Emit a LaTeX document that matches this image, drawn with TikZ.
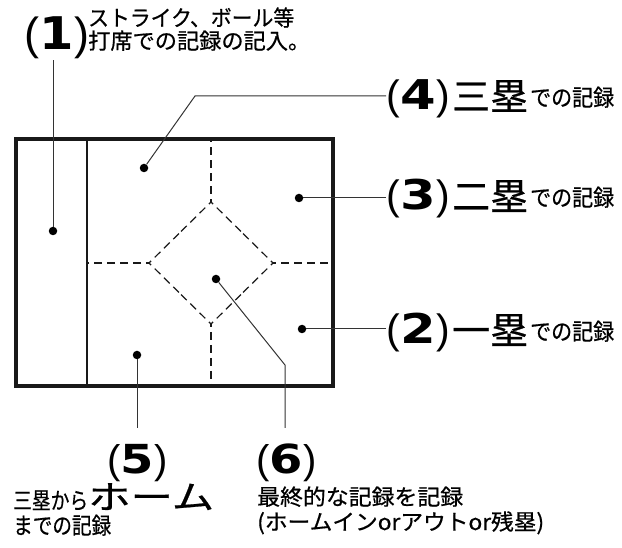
\documentclass[tikz,border=0pt]{standalone}
\usepackage{fontspec}
\usepackage{graphicx}
\usetikzlibrary{calc}
\setmainfont{Liberation Sans}
\newfontfamily\jp[FakeBold=0.6]{Noto Sans CJK JP}
\newfontfamily\digf{DejaVu Sans}
\newcommand\bnum[3]{{\fontsize{#2}{#2}\selectfont(\kern0.3pt\scalebox{#3}[1]{\digf\bfseries #1}\kern0.3pt)}}
\newcommand\fitw[2]{\resizebox{#1}{\height}{#2}}
\newcommand\js[1]{\jp\fontsize{#1}{#1}\selectfont}
\begin{document}
\begin{tikzpicture}[x=1pt,y=-1pt,
  dotn/.style={circle,fill=black,inner sep=0pt,minimum size=8.5pt},
  lead/.style={line width=1pt,draw=black!80},
  frame/.style={line width=4pt,draw=black!90},
  thinln/.style={line width=1.3pt,draw=black!90},
  dashln/.style={line width=1.2pt,draw=black!90,dash pattern=on 8pt off 5pt,dash phase=5pt},
  lb/.style={anchor=base west,inner sep=0pt}]
\useasboundingbox (0,0) rectangle (622,548);
% frame
\draw[frame] (16,139) rectangle (333,386);
\coordinate (ftop) at (211,139);
\coordinate (fbot) at (211,386);
\coordinate (fl) at (87,263);
\coordinate (fr) at (333,263);
\coordinate (dt) at (211,202);
\coordinate (dr) at (273,263);
\coordinate (db) at (211,324);
\coordinate (dl) at (149,263);
\draw[thinln] (87,139) -- (87,386);
% dashed lines, each started at a diamond corner
\draw[dashln] (dt) -- (ftop);
\draw[dashln] (db) -- (fbot);
\draw[dashln] (dl) -- (fl);
\draw[dashln] (dr) -- (fr);
\draw[dashln] (dt) -- ($(dt)!0.5!(dr)$);
\draw[dashln] (dr) -- ($(dt)!0.5!(dr)$);
\draw[dashln] (dr) -- ($(dr)!0.5!(db)$);
\draw[dashln] (db) -- ($(dr)!0.5!(db)$);
\draw[dashln] (db) -- ($(db)!0.5!(dl)$);
\draw[dashln] (dl) -- ($(db)!0.5!(dl)$);
\draw[dashln] (dl) -- ($(dl)!0.5!(dt)$);
\draw[dashln] (dt) -- ($(dl)!0.5!(dt)$);
% dots
\node[dotn] (d1) at (53,231) {};
\node[dotn] (d4) at (144,168) {};
\node[dotn] (d3) at (299,198) {};
\node[dotn] (d2) at (302,329) {};
\node[dotn] (d5) at (137,355) {};
\node[dotn] (d6) at (216,279) {};
% labels
\node[lb] (n1) at (24,50) {\bnum{1}{45}{1.1}};
\node[lb] (t1a) at (88,26) {\fitw{206pt}{\js{22}ストライク、ボール等}};
\node[lb] (t1b) at (88,49) {\fitw{222pt}{\js{22}打席での記録の記入。}};
\node[lb] (n4) at (386,110) {\bnum{4}{41}{1.25}};
\node[lb] (t4) at ([xshift=2pt]n4.base east) {\fitw{76pt}{\js{37}三塁}\kern2pt\raisebox{4pt}{\fitw{84pt}{\js{23}での記録}}};
\node[lb] (n3) at (386,210) {\bnum{3}{41}{1.25}};
\node[lb] (t3) at ([xshift=2pt]n3.base east) {\fitw{76pt}{\js{37}二塁}\kern2pt\raisebox{4pt}{\fitw{84pt}{\js{23}での記録}}};
\node[lb] (n2) at (386,344) {\bnum{2}{41}{1.25}};
\node[lb] (t2) at ([xshift=2pt]n2.base east) {\fitw{76pt}{\js{37}一塁}\kern2pt\raisebox{4pt}{\fitw{84pt}{\js{23}での記録}}};
\node[lb] (n5) at (107,473) {\bnum{5}{40}{1.2}};
\node[lb] (t5a) at (13,509) {\fitw{75pt}{\js{23}三塁から}\fitw{126pt}{\js{33}ホーム}};
\node[lb] (t5b) at (13,534) {\fitw{98pt}{\js{23}までの記録}};
\node[lb] (n6) at (256,473) {\bnum{6}{40}{1.2}};
\node[lb] (t6a) at (257,505) {\fitw{206pt}{\js{22}最終的な記録を記録}};
\node[lb] (t6b) at (257,530) {\fitw{287pt}{\js{22}(ホームインorアウトor残塁)}};
% leaders
\coordinate (c1) at (53,60);
\coordinate (c4) at (195,96);
\coordinate (c5) at (137,428);
\coordinate (c6a) at (285,365);
\coordinate (c6b) at (285,428);
\draw[lead] (d1) -- (c1);
\draw[lead] (d4) -- (c4) -- (c4 -| n4.west);
\draw[lead] (d3) -- (d3 -| n3.west);
\draw[lead] (d2) -- (d2 -| n2.west);
\draw[lead] (d5) -- (c5);
\draw[lead] (d6) -- (c6a) -- (c6b);
\end{tikzpicture}
\end{document}
